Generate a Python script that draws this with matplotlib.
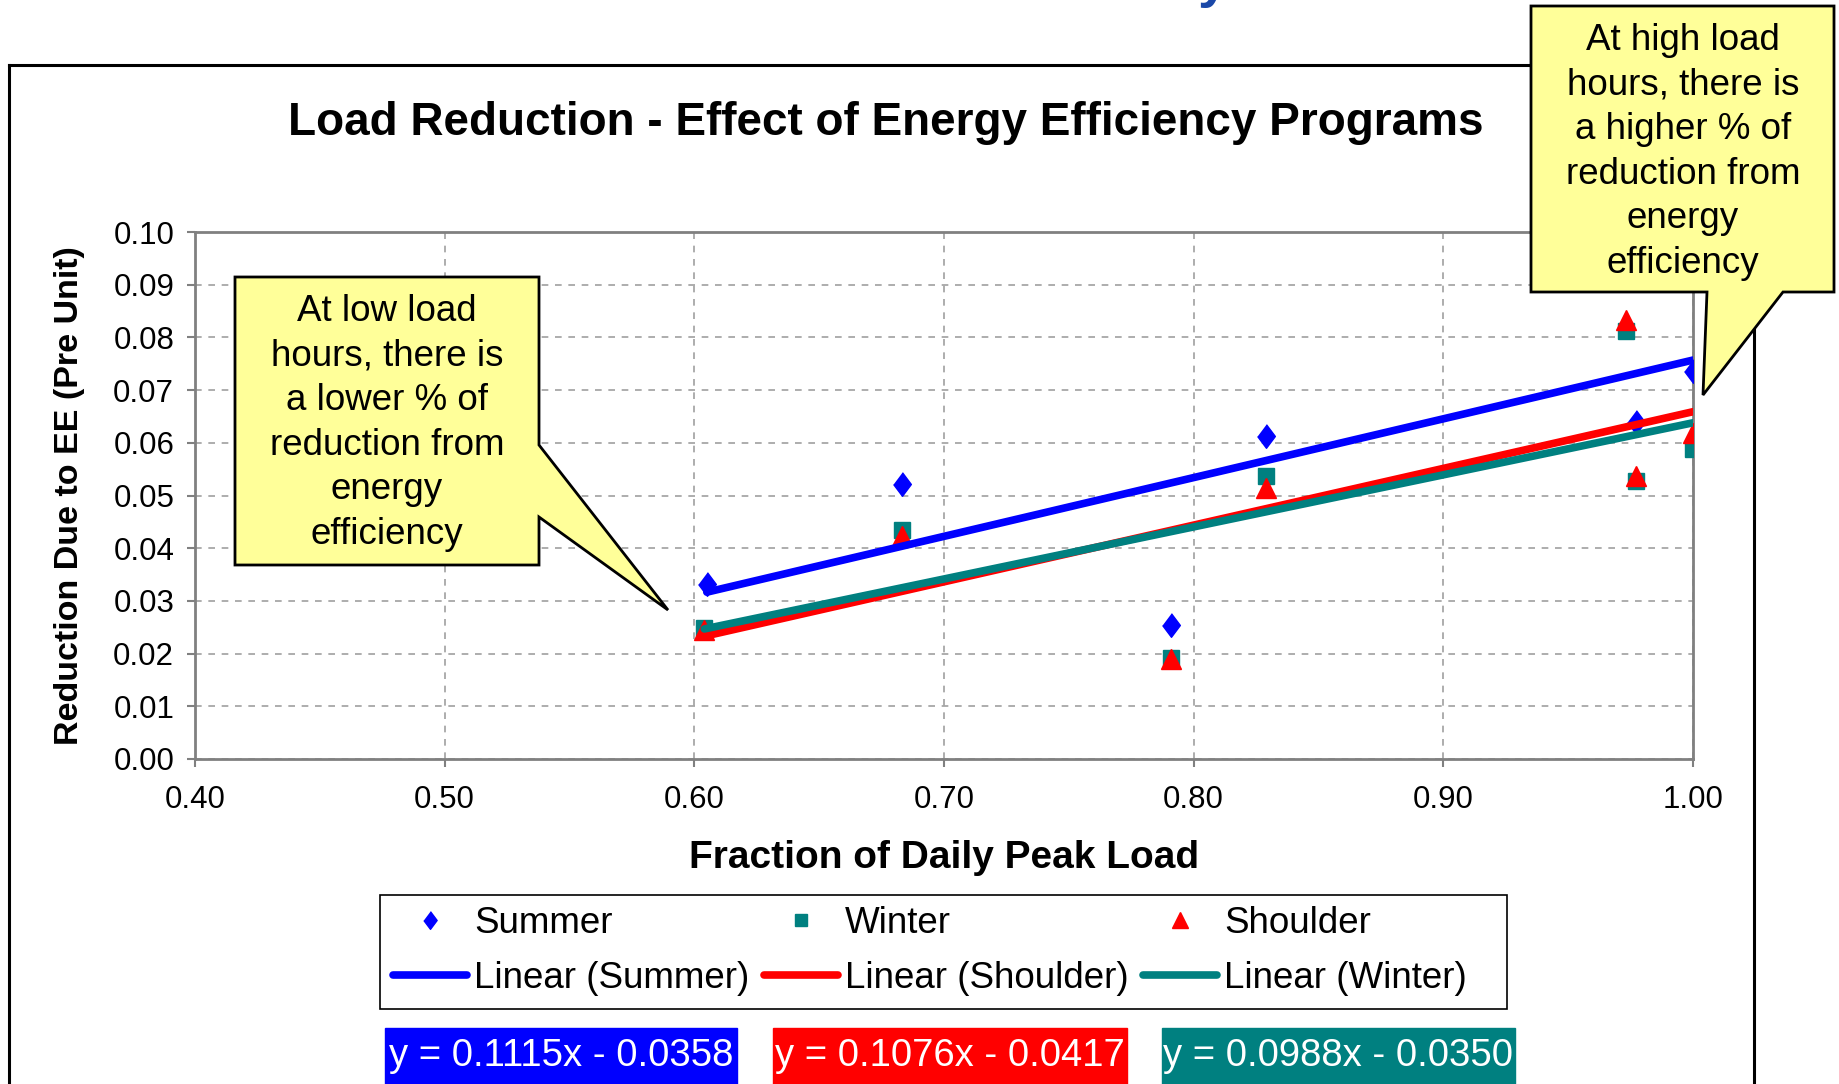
import numpy as np
import matplotlib
matplotlib.use("Agg")
import matplotlib.pyplot as plt
from matplotlib.patches import Polygon, Rectangle
from matplotlib.lines import Line2D

plt.rcParams["font.family"] = ["Liberation Sans", "DejaVu Sans"]

W, H = 1840, 1084

# data
summer_x = [0.605, 0.683, 0.791, 0.829, 0.977, 1.000]
summer_y = [0.0332, 0.0521, 0.0254, 0.0612, 0.0639, 0.0737]
winter_x = [0.604, 0.683, 0.791, 0.829, 0.973, 0.977, 1.000]
winter_y = [0.0249, 0.0434, 0.0192, 0.0537, 0.0813, 0.0528, 0.0588]
shoulder_x = [0.604, 0.683, 0.791, 0.829, 0.973, 0.977, 1.000]
shoulder_y = [0.0245, 0.0423, 0.0189, 0.0514, 0.0833, 0.0537, 0.0619]

# trendline coefficients (slope, intercept) as printed on the chart
fit_summer = (0.1115, -0.0358)
fit_shoulder = (0.1076, -0.0417)
fit_winter = (0.0988, -0.0350)

x_ticks = [0.40, 0.50, 0.60, 0.70, 0.80, 0.90, 1.00]
y_ticks = [0.00, 0.01, 0.02, 0.03, 0.04, 0.05, 0.06, 0.07, 0.08, 0.09, 0.10]

BLUE = "#0000ff"
RED = "#ff0000"
TEAL = "#008080"
YELLOW = "#ffff99"


def fx(px):
    return px / W


def fy(py):
    return 1 - py / H


def fpt(px, py):
    return (fx(px), fy(py))


fig = plt.figure(figsize=(W / 100, H / 100), dpi=100)

# outer chart border
border = dict(color="black", lw=2.2, transform=fig.transFigure, zorder=1)
fig.add_artist(Line2D([fx(9), fx(9)], [fy(65), fy(H + 5)], **border))
fig.add_artist(Line2D([fx(9), fx(1754)], [fy(65), fy(65)], **border))
fig.add_artist(Line2D([fx(1754), fx(1754)], [fy(65), fy(H + 5)], **border))

# cut-off slide title fragment (only its descender shows)
fig.text(fx(1198), fy(-4), "y", fontsize=40, fontweight="bold",
         color="#1a48a8", ha="left", va="baseline")

ax = fig.add_axes([fx(195), fy(759), fx(1693 - 195), (759 - 232) / H])

diamond = [(0, 1), (0.75, 0), (0, -1), (-0.75, 0)]
ax.plot(summer_x, summer_y, ls="none", marker=diamond, ms=17,
        color=BLUE, label="Summer", zorder=3)
ax.plot(winter_x, winter_y, ls="none", marker="s", ms=11.5,
        color=TEAL, label="Winter", zorder=3)
ax.plot(shoulder_x, shoulder_y, ls="none", marker="^", ms=15,
        color=RED, label="Shoulder", zorder=3)

for fit, xs, col, name in [
    (fit_summer, summer_x, BLUE, "Linear (Summer)"),
    (fit_shoulder, shoulder_x, RED, "Linear (Shoulder)"),
    (fit_winter, winter_x, TEAL, "Linear (Winter)"),
]:
    xl = np.array([min(xs), max(xs)])
    ax.plot(xl, fit[0] * xl + fit[1], color=col, lw=5.5,
            solid_capstyle="round", label=name, zorder=4)

ax.set_xlim(0.40, 1.00)
ax.set_ylim(0.00, 0.10)
ax.set_xticks(x_ticks)
ax.set_xticklabels([f"{v:.2f}" for v in x_ticks])
ax.set_yticks(y_ticks)
ax.set_yticklabels([f"{v:.2f}" for v in y_ticks])
ax.tick_params(labelsize=22.5, length=6, width=1.5, color="#808080",
               direction="out")
ax.tick_params(axis="x", pad=13)
ax.tick_params(axis="y", pad=9)
ax.grid(True, color="#a0a0a0", ls=(0, (4, 4)), lw=1.2)
for sp in ax.spines.values():
    sp.set_color("#808080")
    sp.set_linewidth(2)

ax.set_xlabel("Fraction of Daily Peak Load", fontsize=28,
              fontweight="bold", labelpad=18)
ax.set_ylabel("Reduction Due to EE (Pre Unit)", fontsize=24.5,
              fontweight="bold", labelpad=20)

fig.text(fx(886), fy(123), "Load Reduction - Effect of Energy Efficiency Programs",
         fontsize=33, fontweight="bold", ha="center", va="center")

# legend (column-major order to get the 2x3 layout), frame drawn separately
handles, labels = ax.get_legend_handles_labels()
order = [0, 3, 1, 4, 2, 5]
leg = fig.legend([handles[i] for i in order], [labels[i] for i in order],
                 ncol=3, fontsize=26.5, loc="center left",
                 bbox_to_anchor=(fx(393), fy(951)), borderaxespad=0,
                 frameon=False, handlelength=2.0, handletextpad=0.2,
                 columnspacing=0.4, labelspacing=0.55, borderpad=0,
                 markerscale=0.75)
fig.add_artist(Rectangle(fpt(380, 1009), fx(1507 - 380), (1009 - 895) / H,
                         transform=fig.transFigure, fill=False,
                         edgecolor="black", lw=1.2, zorder=1))

# equation boxes
for (x0, x1), col, fit in [((385, 737), BLUE, fit_summer),
                           ((773, 1127), RED, fit_shoulder),
                           ((1162, 1515), TEAL, fit_winter)]:
    fig.add_artist(Rectangle(fpt(x0, H + 5), fx(x1 - x0), (H + 5 - 1028) / H,
                             transform=fig.transFigure, color=col, zorder=2))
    eq = f"y = {fit[0]:.4f}x - {abs(fit[1]):.4f}"
    fig.text(fx((x0 + x1) / 2), fy(1056), eq, fontsize=27.5, color="white",
             ha="center", va="center", zorder=3)

# callouts
left_shape = [(235, 277), (539, 277), (539, 445), (668, 610), (539, 517),
              (539, 565), (235, 565)]
right_shape = [(1531, 6), (1834, 6), (1834, 292), (1783, 292), (1703, 395),
               (1707, 292), (1531, 292)]
for shape in [left_shape, right_shape]:
    fig.add_artist(Polygon([fpt(x, y) for x, y in shape], closed=True,
                           facecolor=YELLOW, edgecolor="black", lw=2,
                           transform=fig.transFigure, zorder=5))

fig.text(fx(387), fy(423),
         "At low load\nhours, there is\na lower % of\nreduction from\nenergy\nefficiency",
         fontsize=26.5, ha="center", va="center", linespacing=1.35, zorder=6)
fig.text(fx(1683), fy(152),
         "At high load\nhours, there is\na higher % of\nreduction from\nenergy\nefficiency",
         fontsize=26.5, ha="center", va="center", linespacing=1.35, zorder=6)

fig.savefig("out.png", dpi=100)
